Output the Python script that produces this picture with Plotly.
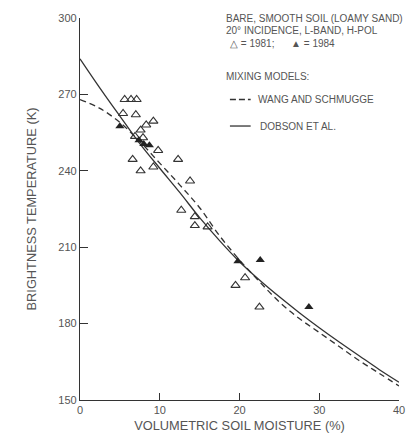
import plotly.graph_objects as go

# Volumetric soil moisture (%) vs. L-band brightness temperature (K)
moist_1981 = [5.6, 6.4, 7.1, 5.4, 7.0, 9.2, 8.3, 7.6, 6.9, 7.9, 9.8, 6.6, 9.2, 7.6,
              12.3, 13.8, 12.7, 14.4, 14.4, 16.0, 19.5, 20.7, 22.5]
tb_1981 = [268, 268, 268, 262.5, 262, 259.5, 258, 256, 253.5, 253, 248, 244.5, 241.5, 240,
           244.5, 236, 224.5, 222, 218.5, 218, 195, 198, 186.5]

moist_1984 = [5.0, 7.4, 8.0, 8.7, 19.8, 22.6, 28.7]
tb_1984 = [257.5, 252, 250.5, 250, 204.5, 205, 186.5]

# Mixing-model curves
model_moist = [0, 2.5, 5, 7.5, 10, 12.5, 15, 17.5, 20, 22.5, 25, 27.5, 30, 32.5, 35, 37.5, 40]
wang_schmugge = [268, 264.5, 259, 251.5, 243, 234.5, 225.5, 214.5, 205, 196.5, 188.5,
                 182, 176.5, 171, 165.5, 160.5, 155.5]
dobson = [284, 272.5, 261.5, 250.7, 241, 231.5, 221.6, 212.6, 204.3, 197.1, 190.5,
          184.3, 178.4, 172.8, 167.4, 162.0, 157]

x_ticks = [0, 10, 20, 30, 40]
y_ticks = [150, 180, 210, 240, 270, 300]

INK = "#333333"
TXT = "#555555"
FONT = "Liberation Sans, Arial, sans-serif"

fig = go.Figure()
fig.add_trace(go.Scatter(x=model_moist, y=wang_schmugge, mode="lines",
                         line=dict(color=INK, width=1.3, dash="6px,4px"),
                         line_shape="spline", showlegend=False))
fig.add_trace(go.Scatter(x=model_moist, y=dobson, mode="lines",
                         line=dict(color=INK, width=1.3),
                         line_shape="spline", showlegend=False))
fig.add_trace(go.Scatter(x=moist_1981, y=tb_1981, mode="markers",
                         marker=dict(symbol="triangle-up-open", size=8,
                                     color=INK, line=dict(width=1.1, color=INK)),
                         showlegend=False))
fig.add_trace(go.Scatter(x=moist_1984, y=tb_1984, mode="markers",
                         marker=dict(symbol="triangle-up", size=8, color="#222222"),
                         showlegend=False))

plot_top, plot_h = 17, 389


def ypaper(py):
    return 1 - (py - plot_top) / plot_h


# Key text in the upper right
key_lines = [
    ("BARE, SMOOTH SOIL (LOAMY SAND)", 0.452, 17),
    ("20° INCIDENCE, L-BAND, H-POL", 0.452, 30),
    ("△ = 1981;      ▲ = 1984", 0.465, 43),
    ("MIXING MODELS:", 0.452, 77),
    ("WANG AND SCHMUGGE", 0.552, 100),
    ("DOBSON ET AL.", 0.558, 127),
]
for text, xp, py in key_lines:
    fig.add_annotation(text=text, xref="paper", yref="paper",
                       x=xp, y=ypaper(py),
                       xanchor="left", yanchor="middle", showarrow=False,
                       font=dict(family=FONT, size=10, color=TXT))

fig.add_shape(type="line", xref="paper", yref="paper",
              x0=0.47, x1=0.535, y0=ypaper(100), y1=ypaper(100),
              line=dict(color=INK, width=1.3, dash="6px,3px"))
fig.add_shape(type="line", xref="paper", yref="paper",
              x0=0.47, x1=0.535, y0=ypaper(127), y1=ypaper(127),
              line=dict(color=INK, width=1.3))

fig.update_xaxes(range=[0, 40], tickvals=x_ticks, ticks="inside", ticklen=7,
                 tickcolor=INK, showline=True, linecolor=INK, linewidth=1.3,
                 showgrid=False, zeroline=False,
                 tickfont=dict(family=FONT, size=11, color=TXT),
                 title=dict(text="VOLUMETRIC SOIL MOISTURE (%)", standoff=5,
                            font=dict(family=FONT, size=12.8, color=TXT)))
fig.update_yaxes(range=[150, 300], tickvals=y_ticks, ticks="inside", ticklen=8,
                 tickcolor=INK, showline=True, linecolor=INK, linewidth=1.3,
                 showgrid=False, zeroline=False,
                 tickfont=dict(family=FONT, size=11, color=TXT),
                 title=dict(text="BRIGHTNESS TEMPERATURE (K)", standoff=18,
                            font=dict(family=FONT, size=12.8, color=TXT)))

fig.update_layout(width=417, height=442,
                  margin=dict(l=80, r=14, t=17, b=36),
                  paper_bgcolor="white", plot_bgcolor="white",
                  showlegend=False)

fig.write_html("out.html")
